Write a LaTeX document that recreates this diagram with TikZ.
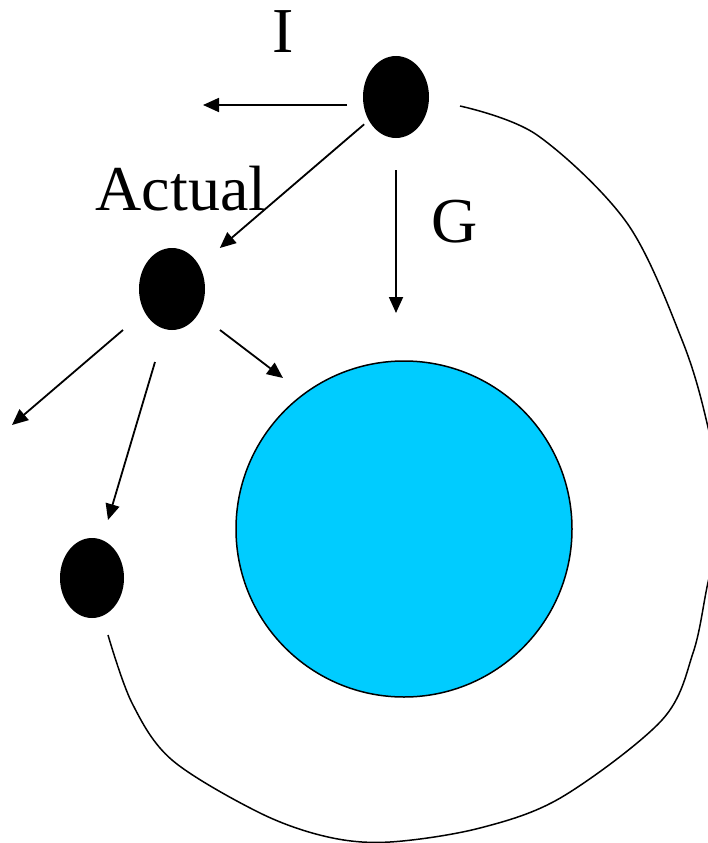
\documentclass[tikz,border=0pt]{standalone}
\usepackage{fontspec}
\setmainfont{Liberation Serif}
\usetikzlibrary{arrows.meta,shapes.geometric}
\begin{document}
\begin{tikzpicture}[x=1pt,y=-1pt,
  dot/.style={ellipse,fill=black,inner sep=0pt,minimum width=66pt,minimum height=82pt},
  arr/.style={line width=1.8pt,-{Triangle[length=16pt,width=14pt]}},
  lbl/.style={font=\fontsize{64}{64}\selectfont,inner sep=0pt}]
\useasboundingbox (0,0) rectangle (708,843);
\clip (0,0) rectangle (708,843);
\definecolor{sky}{HTML}{00CCFF}
\node[circle,draw=black,line width=1.5pt,fill=sky,minimum size=336pt,inner sep=0pt] (earth) at (404,529) {};
\node[dot] (I) at (396,97) {};
\node[dot] (A) at (172,289) {};
\node[dot,minimum width=64pt,minimum height=80pt] (B) at (92,578) {};
\node[lbl] (tI) at (283,32) {I};
\node[lbl] (tA) at (181,189) {Actual};
\node[lbl] (tG) at (455,222) {G};
\coordinate (s1) at (347,105); \coordinate (e1) at (203,105);
\coordinate (s3) at (396,170); \coordinate (e3) at (396,313);
\coordinate (s4) at (123,330); \coordinate (e4) at (12,425);
\coordinate (s5) at (155,362); \coordinate (e5) at (108,520);
\coordinate (s6) at (220,330); \coordinate (e6) at (283,378);
\draw[arr] (s1) -- (e1);
\draw[arr,shorten <=6pt,shorten >=27pt] (I) -- (A);
\draw[arr] (s3) -- (e3);
\draw[arr] (s4) -- (e4);
\draw[arr] (s5) -- (e5);
\draw[arr] (s6) -- (e6);
\draw[line width=1.5pt] plot[smooth,tension=0.55] coordinates {(460,106) (537,135) (627,223) (682,340) (707,423) (722,510) (707,587) (693,653) (662,720) (562,797) (480,828) (390,842) (328,837) (260,813) (172,760) (132,703) (108,635)};
\end{tikzpicture}
\end{document}
